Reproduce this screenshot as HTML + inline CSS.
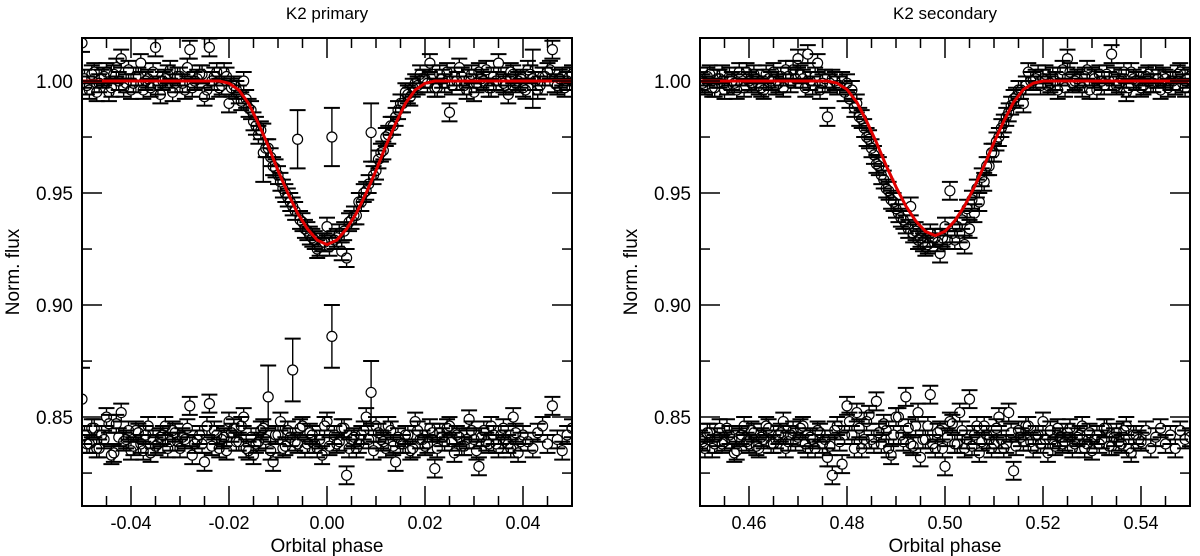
<!DOCTYPE html>
<html><head><meta charset="utf-8">
<style>
html,body{margin:0;padding:0;background:#fff;}
svg{display:block;font-family:"Liberation Sans",sans-serif;}
</style></head>
<body>
<svg id="chart" width="1200" height="556" viewBox="0 0 1200 556"></svg>
<script>
// ---- Data ----
const yTicks = [0.85, 0.90, 0.95, 1.00];
const yTickLabels = ["0.85", "0.90", "0.95", "1.00"];
const xTicksL = [-0.04, -0.02, 0.00, 0.02, 0.04];
const xTickLabelsL = ["-0.04", "-0.02", "0.00", "0.02", "0.04"];
const xTicksR = [0.46, 0.48, 0.50, 0.52, 0.54];
const xTickLabelsR = ["0.46", "0.48", "0.50", "0.52", "0.54"];

const phaseStartL = -0.050, phaseStepL = 0.001;
const fluxL = [1017,998,1003,995,1001,1004,997,1006,1010,999,996,1002,1008,1000,997,1015,994,1001,1005,999,1002,996,1014,1000,1003,993,1015,1002,997,1004,990,998,994,1000,988,982,976,968,970,962,958,952,948,944,974,937,933,930,925,928,935,975,930,924,921,938,940,946,951,977,960,968,975,980,984,990,995,993,999,1003,1001,1008,997,1003,999,986,1002,1006,998,1001,995,1004,1000,997,1002,1008,999,994,1003,1000,997,1005,1001,996,1002,1004,1014,998,1002,1000,1003];
const residL = [858,838,845,836,842,850,833,847,852,840,835,844,838,842,834,837,841,846,839,843,836,840,855,838,842,830,856,844,836,841,848,845,839,850,835,833,839,845,859,830,842,836,844,871,838,846,838,842,836,833,848,886,838,845,824,840,836,842,850,861,846,840,836,844,830,838,842,835,848,840,837,845,827,843,839,846,834,841,837,849,840,828,844,838,842,836,845,838,850,834,842,839,836,843,846,838,855,840,835,842,845];
const phaseStartL2 = -0.0495;
const fluxL2 = [1001,996,1004,999,1002,995,1003,1000,997,1005,999,1002,996,1001,1004,998,1000,1003,995,1002,999,1006,997,1001,1003,996,1000,1004,998,1002,
997,996,991,992,987,980,978,970,966,961,955,950,946,942,938,934,931,929,926,928,
926,929,932,933,937,940,946,950,954,958,965,969,976,980,987,990,994,997,998,1001,
999,1003,997,1001,1004,998,1000,1002,996,1003,999,1001,1005,997,1000,1002,998,1004,999,1001,996,1003,1000,998,1002,1005,999,1001,997,1002];
const residL2 = [842,838,845,836,840,847,834,841,839,844,837,843,835,846,840,838,842,836,844,839,841,845,833,840,838,846,837,842,840,835,
843,839,846,836,841,838,844,840,835,842,848,837,841,839,845,836,843,838,840,846,
837,842,839,845,836,841,838,844,840,835,843,839,846,837,841,838,842,836,844,840,
838,843,836,841,845,839,842,837,840,844,835,841,839,846,838,842,840,836,843,839];

const phaseStartR = 0.450, phaseStepR = 0.001;
const fluxR = [1000,998,1003,997,1001,996,1002,999,1004,997,1000,1003,998,996,1001,1004,999,997,1002,1005,1010,1001,1012,998,1008,999,984,1001,998,1000,999,996,990,983,975,970,963,958,952,947,943,939,936,944,933,930,926,932,930,923,935,951,929,932,927,934,941,946,955,962,968,975,981,986,992,996,990,1004,1000,1003,1001,998,1002,996,1005,1010,999,1001,997,1005,1002,996,1000,1003,1012,998,1001,995,1004,1000,997,1002,999,1003,996,1001,1000,998,1004,997,1002];
const residR = [840,836,843,838,845,839,842,834,841,846,838,843,836,840,845,838,842,848,839,844,841,846,836,840,844,838,832,824,846,829,855,842,852,836,848,840,857,838,844,833,850,842,859,838,846,832,840,860,836,844,828,848,838,852,836,858,842,834,846,840,838,850,836,852,826,844,839,846,836,842,848,834,840,845,838,843,836,841,846,838,835,842,840,845,837,843,838,846,834,842,839,844,836,841,845,838,842,836,844,840,841];
const phaseStartR2 = 0.4505;
const fluxR2 = [999,1002,997,1001,1003,998,1000,996,1002,1004,999,1001,997,1003,1000,998,1002,1005,999,1001,1003,997,1000,1002,996,1001,999,1000,
998,995,992,988,984,979,974,967,962,956,951,946,941,938,934,932,929,928,927,930,
928,930,929,932,935,938,943,947,952,957,962,968,973,979,984,989,993,996,998,1000,
1001,998,1003,999,1000,1002,997,1004,1000,999,1002,996,1001,1003,998,1000,1002,999,1004,997,1001,1000,998,1003,999,1001,1002,997,1000,1003,999,1001];
const residR2 = [839,843,836,841,838,845,840,835,842,839,844,837,841,846,838,840,843,836,842,839,845,838,841,836,843,840,837,844,839,842,
848,836,845,840,851,838,843,847,836,842,850,839,845,837,852,840,846,838,843,836,
841,847,838,844,840,837,846,839,842,836,845,840,838,843,837,841,846,839,842,838,
840,844,837,841,839,845,838,842,836,843,840,838,845,837,841,839,844,836,842,840];

const modelPhaseOffsets = [-0.06,-0.022,-0.020,-0.018,-0.016,-0.014,-0.012,-0.010,-0.008,-0.006,-0.004,-0.002,0,0.002,0.004,0.006,0.008,0.010,0.012,0.014,0.016,0.018,0.020,0.022,0.06];
const modelDepthFrac = [0,0,0.014,0.055,0.137,0.26,0.397,0.548,0.685,0.808,0.904,0.973,1,0.973,0.904,0.808,0.685,0.548,0.397,0.26,0.137,0.055,0.014,0,0];
const modelCenterL = 0.000, modelMinL = 0.927;
const modelCenterR = 0.498, modelMinR = 0.931;

const bigErrL = {44:0.013, 51:0.013, 59:0.013, 37:0.013, 92:0.013};
const bigErrResL = {38:0.014, 43:0.014, 51:0.014, 59:0.014, 0:0.014};

// ---- Drawing ----
const svg = document.getElementById('chart');
const NS = 'http://www.w3.org/2000/svg';
function mk(tag, attrs, parent){
  const e = document.createElementNS(NS, tag);
  for (const k in attrs) e.setAttribute(k, attrs[k]);
  (parent||svg).appendChild(e);
  return e;
}
const Y0 = 38, Y1 = 506, yMin = 0.8103, yMax = 1.0192;
function yS(v){ return Y1 - (v - yMin) / (yMax - yMin) * (Y1 - Y0); }

function panel(opt){
  const {x0, x1, xmin, xmax, title, xt, xtl, sets, center, fmin, name} = opt;
  const xS = v => x0 + (v - xmin) / (xmax - xmin) * (x1 - x0);
  const g = mk('g', {});
  
  
  const clip = mk('clipPath', {id: 'clip-' + name}, g);
  mk('rect', {x: x0, y: Y0, width: x1 - x0, height: Y1 - Y0}, clip);
  const pts = mk('g', {'clip-path': 'url(#clip-' + name + ')'}, g);
  
  
  function point(ph, f, err){
    const cx = xS(ph), cy = yS(f);
    const e1 = yS(f + err), e2 = yS(f - err);
    mk('line', {x1: cx, x2: cx, y1: e1, y2: cy - 5, stroke: '#000', 'stroke-width': 1.4}, pts);
    mk('line', {x1: cx, x2: cx, y1: cy + 5, y2: e2, stroke: '#000', 'stroke-width': 1.4}, pts);
    mk('line', {x1: cx - 8, x2: cx + 8, y1: e1, y2: e1, stroke: '#000', 'stroke-width': 2}, pts);
    mk('line', {x1: cx - 8, x2: cx + 8, y1: e2, y2: e2, stroke: '#000', 'stroke-width': 2}, pts);
    mk('circle', {cx: cx, cy: cy, r: 5, fill: 'none', stroke: '#000', 'stroke-width': 1.2}, pts);
  }
  sets.forEach(s => {
    for (let i = 0; i < s.vals.length; i++){
      point(s.start + i * s.step, s.vals[i] / 1000, (s.err && s.err[i]) || 0.004);
    }
  });
  let d = '';
  modelPhaseOffsets.forEach((o, i) => {
    const v = 1 - modelDepthFrac[i] * (1 - fmin);
    d += (i ? 'L' : 'M') + xS(center + o).toFixed(1) + ',' + yS(v).toFixed(1);
  });
  const m = mk('path', {d: d, fill: 'none', stroke: '#e00000', 'stroke-width': 3, 'stroke-linejoin': 'round', 'clip-path': 'url(#clip-' + name + ')'}, g);
  
  
  mk('rect', {x: x0, y: Y0, width: x1 - x0, height: Y1 - Y0, fill: 'none', stroke: '#000', 'stroke-width': 2}, g);
  for (let v = xmin; v <= xmax + 1e-9; v += 0.005){
    const X = xS(v);
    const major = Math.abs(Math.round(v / 0.02) * 0.02 - v) < 1e-6;
    const L = major ? 20 : 10;
    mk('line', {x1: X, x2: X, y1: Y1, y2: Y1 - L, stroke: '#000', 'stroke-width': 1.5}, g);
    mk('line', {x1: X, x2: X, y1: Y0, y2: Y0 + L, stroke: '#000', 'stroke-width': 1.5}, g);
  }
  xt.forEach((v, i) => {
    const t = mk('text', {x: xS(v), y: 529, 'font-size': 18, 'text-anchor': 'middle'}, g);
    t.textContent = xtl[i];
    
    
  });
  for (let v = 0.825; v <= 1.0201; v += 0.025){
    const Y = yS(v);
    const major = Math.abs(Math.round(v / 0.05) * 0.05 - v) < 1e-6;
    const L = major ? 20 : 10;
    mk('line', {x1: x0, x2: x0 + L, y1: Y, y2: Y, stroke: '#000', 'stroke-width': 1.5}, g);
    mk('line', {x1: x1, x2: x1 - L, y1: Y, y2: Y, stroke: '#000', 'stroke-width': 1.5}, g);
  }
  yTicks.forEach((v, i) => {
    const t = mk('text', {x: x0 - 9, y: yS(v) + 7, 'font-size': 19, 'text-anchor': 'end'}, g);
    t.textContent = yTickLabels[i];
    
    
  });
  const tt = mk('text', {x: (x0 + x1) / 2, y: 19, 'font-size': 17, 'text-anchor': 'middle'}, g);
  tt.textContent = title;
  
  
  const xl = mk('text', {x: (x0 + x1) / 2, y: 552, 'font-size': 19, 'text-anchor': 'middle'}, g);
  xl.textContent = 'Orbital phase';
  
  
  const yl = mk('text', {x: 0, y: 0, 'font-size': 19, 'text-anchor': 'middle', transform: 'translate(' + (x0 - 63) + ',' + ((Y0 + Y1) / 2) + ') rotate(-90)'}, g);
  yl.textContent = 'Norm. flux';
  
  
}

panel({x0: 82, x1: 572, xmin: -0.05, xmax: 0.05, title: 'K2 primary', xt: xTicksL, xtl: xTickLabelsL,
  sets: [
    {start: phaseStartL2, step: phaseStepL, vals: fluxL2},
    {start: phaseStartL2, step: phaseStepL, vals: residL2},
    {start: phaseStartL, step: phaseStepL, vals: fluxL, err: bigErrL},
    {start: phaseStartL, step: phaseStepL, vals: residL, err: bigErrResL}
  ],
  center: modelCenterL, fmin: modelMinL, name: 'primary-panel'});
panel({x0: 700, x1: 1190, xmin: 0.45, xmax: 0.55, title: 'K2 secondary', xt: xTicksR, xtl: xTickLabelsR,
  sets: [
    {start: phaseStartR2, step: phaseStepR, vals: fluxR2},
    {start: phaseStartR2, step: phaseStepR, vals: residR2},
    {start: phaseStartR, step: phaseStepR, vals: fluxR},
    {start: phaseStartR, step: phaseStepR, vals: residR}
  ],
  center: modelCenterR, fmin: modelMinR, name: 'secondary-panel'});
</script>
</body></html>
